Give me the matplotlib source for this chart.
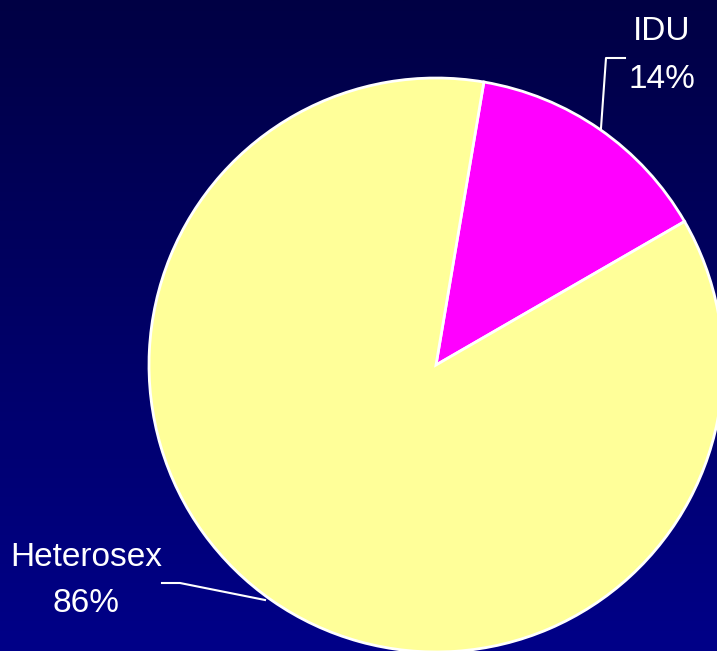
import matplotlib
matplotlib.use("Agg")
import matplotlib.pyplot as plt
import numpy as np
from matplotlib.colors import LinearSegmentedColormap
from matplotlib import font_manager

labels = ["IDU", "Heterosex"]
values = [14, 86]
colors = ["#FF00FF", "#FFFF99"]

W, H = 717, 651
fig = plt.figure(figsize=(W / 100, H / 100), dpi=100)
ax = fig.add_axes([0, 0, 1, 1])

cmap = LinearSegmentedColormap.from_list("bg", ["#000088", "#000044"])
grad = np.linspace(0, 1, 256).reshape(-1, 1)
ax.imshow(grad, extent=[0, W, 0, H], cmap=cmap, aspect="auto", zorder=0, origin="lower")

cx, cy, r = 436, H - 365, 287
wedges, _ = ax.pie(values, colors=colors, startangle=30, counterclock=True,
                   center=(cx, cy), radius=r, frame=True,
                   wedgeprops=dict(edgecolor="white", linewidth=2))
for w in wedges:
    w.set_zorder(2)
ax.set_xlim(0, W)
ax.set_ylim(0, H)
ax.set_aspect("equal")
ax.axis("off")

names = {f.name for f in font_manager.fontManager.ttflist}
narrow = [n for n in ["Liberation Sans Narrow", "DejaVu Sans Condensed"] if n in names]
fam = narrow + ["Liberation Sans", "DejaVu Sans"]
fs = 28 if narrow else 24
tk = dict(color="white", fontsize=fs, family=fam, ha="center", va="center", zorder=5)
ax.text(662, H - 31, "IDU", **tk)
ax.text(662, H - 79, f"{values[0]}%", **tk)
ax.text(86, H - 557, "Heterosex", **tk)
ax.text(86, H - 603, f"{values[1]}%", **tk)

ax.plot([601, 606, 625], [H - 128, H - 58, H - 58], color="white", lw=1.5, zorder=4)
ax.plot([265, 180, 162], [H - 600, H - 583, H - 583], color="white", lw=1.5, zorder=4)

fig.savefig("out.png", dpi=100)
